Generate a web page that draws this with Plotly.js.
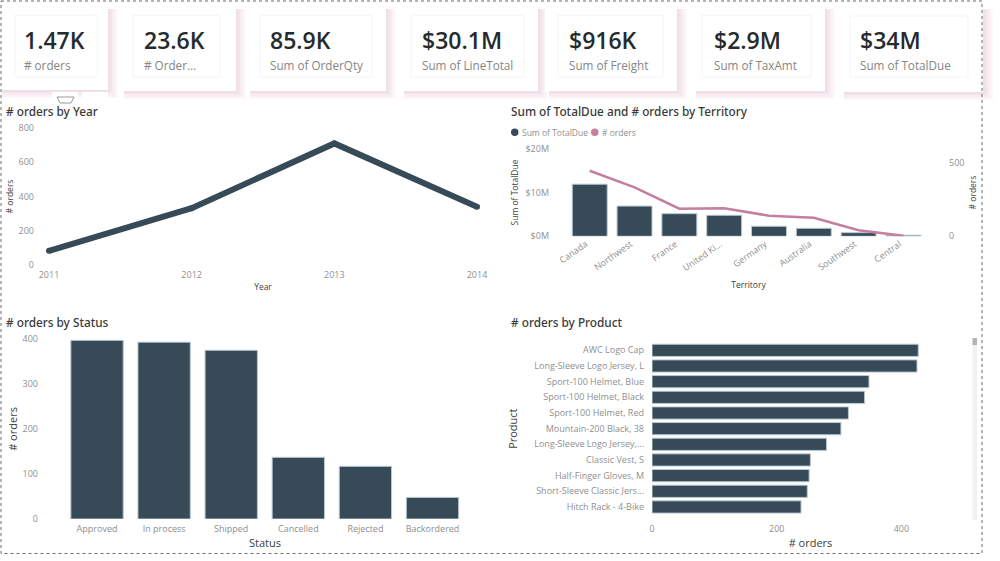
<!DOCTYPE html>
<html><head><meta charset="utf-8">
<script src="https://cdn.plot.ly/plotly-3.0.1.min.js"></script>
<style>html,body{margin:0;padding:0;background:#fff;overflow:hidden}#c{width:1000px;height:561px}</style>
</head><body><div id="c"></div>
<script>
// ---------- data ----------
const cardValues = ['1.47K','23.6K','85.9K','$30.1M','$916K','$2.9M','$34M'];
const cardLabels = ['# orders','# Order...','Sum of OrderQty','Sum of LineTotal','Sum of Freight','Sum of TaxAmt','Sum of TotalDue'];

const years = [2011,2012,2013,2014];
const ordersByYear = [83,332,710,340];

const territories = ['Canada','Northwest','France','United Ki...','Germany','Australia','Southwest','Central'];
const totalDue = [11.9e6,6.9e6,5.17e6,4.8e6,2.28e6,1.82e6,0.83e6,0.25e6];
const ordersByTerritory = [449,335,189,192,141,127,41,4];

const statuses = ['Approved','In process','Shipped','Cancelled','Rejected','Backordered'];
const ordersByStatus = [397,393,375,137,117,48];

const products = ['AWC Logo Cap','Long-Sleeve Logo Jersey, L','Sport-100 Helmet, Blue','Sport-100 Helmet, Black','Sport-100 Helmet, Red','Mountain-200 Black, 38','Long-Sleeve Logo Jersey,...','Classic Vest, S','Half-Finger Gloves, M','Short-Sleeve Classic Jers...','Hitch Rack - 4-Bike'];
const ordersByProduct = [427,425,348,341,315,303,280,254,252,249,239];

// ---------- style ----------
const W=1000,H=561;
const NAVY='#374a58', PINK='#c47f9f', EDGE='#b9c9d2';
const TICK='#8f8f8f', TITLE='#3a3a3a', AXT='#404040';
const FONT='"Open Sans", sans-serif', HEAD='"Noto Sans", sans-serif';
const px=(a,b)=>[a/W,b/W], py=(t,b)=>[1-b/H,1-t/H];
const tf={family:FONT,size:9,color:TICK};

const shapes=[], annotations=[];
function rect(x0,y0,x1,y1,fill,line,op){
  shapes.push({type:'rect',xref:'paper',yref:'paper',x0:x0/W,x1:x1/W,y0:1-y0/H,y1:1-y1/H,
    fillcolor:fill,opacity:op==null?1:op,line:line?{color:line,width:1}:{width:0},layer:'below'});
}
function text(x,y,t,size,color,family,weight){
  annotations.push({xref:'paper',yref:'paper',x:x/W,y:1-y/H,text:t,showarrow:false,
    xanchor:'left',yanchor:'middle',borderpad:0,font:{size,color,family,weight:weight||400}});
}
// cards: outer box, inner box, text x
const cardBoxes=[[-2,3,108,90],[120,3,236,91],[246,3,386,91],[400,3,538,91],[545,3,677,91],[692,3,825,91],[840,3,983,92]];
const innerBoxes=[[15,15,97,77],[133,15,220,77],[260,15,372,77],[411,15,524,77],[558,15,663,77],[702,15,811,77],[850,16,968,77]];
const textX=[23,143,269,421,568,713,859];
cardBoxes.forEach(b=>{
  [[10,8,.12],[8,7,.14],[6,5,.16],[4,3,.2],[2,2,.3]].forEach(s=>rect(b[0]+4,b[1]+6,b[2]+s[0],b[3]+s[1],'#eccfdb',null,s[2]));
});
cardBoxes.forEach(b=>rect(b[0],b[1],b[2],b[3],'#ffffff'));
innerBoxes.forEach(b=>rect(b[0],b[1],b[2],b[3],'#ffffff','#f4f4f4'));
cardValues.forEach((v,i)=>{
  text(textX[i],39.5,v,23,'#252a2e',FONT,600);
  text(textX[i],65.5,cardLabels[i],11.7,'#858585',FONT);
});
// filter-icon tab
rect(82,92,108,100,'#ffffff');
rect(52,92,78,106,'#ffffff');
shapes.push({type:'path',xref:'paper',yref:'paper',layer:'below',
  path:`M ${57/W} ${1-97/H} L ${74/W} ${1-97/H} L ${71/W} ${1-103/H} L ${60/W} ${1-103/H} Z`,
  fillcolor:'#ffffff',line:{color:'#9a9a9a',width:1}});
// dotted frame
shapes.push({type:'rect',xref:'paper',yref:'paper',x0:1/W,x1:982/W,y0:1-1/H,y1:1-553.5/H,layer:'below',
  line:{color:'#6a6a6a',width:1,dash:'dot'},fillcolor:'rgba(0,0,0,0)'});
// scrollbar
rect(972.5,340,977,520,'#f1f1f1');
rect(972.5,338,977,345,'#b5b5b5');

// chart titles
text(5,110.5,'# orders by Year',11.8,TITLE,HEAD,500);
text(510,110.5,'Sum of TotalDue and # orders by Territory',11.8,TITLE,HEAD,500);
text(5,321.5,'# orders by Status',11.8,TITLE,HEAD,500);
text(510,321.5,'# orders by Product',11.8,TITLE,HEAD,500);

// legend
shapes.push({type:'circle',xref:'paper',yref:'paper',x0:511/W,x1:518.5/W,y0:1-128.5/H,y1:1-136/H,fillcolor:NAVY,line:{width:0}});
shapes.push({type:'circle',xref:'paper',yref:'paper',x0:591/W,x1:598.5/W,y0:1-128.5/H,y1:1-136/H,fillcolor:PINK,line:{width:0}});
text(520.5,132.5,'Sum of TotalDue',8.5,TICK,FONT);
text(600.5,132.5,'# orders',8.5,TICK,FONT);

const base={showgrid:false,zeroline:false,showline:false,ticks:'',tickfont:tf};
const axt=(t,size,standoff)=>({text:t,font:{family:FONT,size,color:AXT},standoff});

const traces=[
 {type:'scatter',mode:'lines+markers',x:years,y:ordersByYear,line:{color:NAVY,width:6},marker:{color:NAVY,size:6},xaxis:'x',yaxis:'y',cliponaxis:false,showlegend:false},
 {type:'bar',x:territories,y:totalDue,marker:{color:NAVY,line:{color:EDGE,width:1}},xaxis:'x2',yaxis:'y2',showlegend:false,name:'Sum of TotalDue'},
 {type:'scatter',mode:'lines',x:territories,y:ordersByTerritory,line:{color:PINK,width:2.5},xaxis:'x2',yaxis:'y3',showlegend:false,name:'# orders'},
 {type:'bar',x:statuses,y:ordersByStatus,marker:{color:NAVY,line:{color:EDGE,width:1}},xaxis:'x3',yaxis:'y4',showlegend:false},
 {type:'bar',orientation:'h',y:products,x:ordersByProduct,marker:{color:NAVY,line:{color:EDGE,width:1}},xaxis:'x4',yaxis:'y5',showlegend:false}
];

const layout={
 width:W,height:H,margin:{l:0,r:0,t:0,b:0},paper_bgcolor:'#fff',plot_bgcolor:'rgba(0,0,0,0)',
 showlegend:false,bargap:0.22,font:{family:FONT},shapes,annotations,
 // line
 xaxis:Object.assign({},base,{domain:px(49,477),range:[2011,2014],tickvals:years,ticktext:years.map(String),anchor:'y',ticklabelstandoff:3,
   title:axt('Year',8.5,3.5)}),
 yaxis:Object.assign({},base,{domain:py(128,265),range:[0,800],tickvals:[0,200,400,600,800],anchor:'x',ticklabelstandoff:14,
   title:axt('# orders',8.5,3)}),
 // combo
 xaxis2:Object.assign({},base,{domain:px(551,946),range:[-0.864,7.95],type:'category',categoryorder:'array',categoryarray:territories,anchor:'y2',tickangle:-35,ticklabelshift:-4,
   title:axt('Territory',8.5,9)}),
 yaxis2:Object.assign({},base,{domain:py(148.7,236.3),range:[0,20e6],tickvals:[0,10e6,20e6],ticktext:['$0M','$10M','$20M'],anchor:'x2',ticklabelstandoff:1,
   title:axt('Sum of TotalDue',8.5,5)}),
 yaxis3:Object.assign({},base,{domain:py(148.7,236.3),range:[0,600],tickvals:[0,500],overlaying:'y2',side:'right',anchor:'x2',ticklabelstandoff:2,
   title:axt('# orders',8.5,6)}),
 // status
 xaxis3:Object.assign({},base,{domain:px(40,490),range:[-0.85,5.857],type:'category',categoryorder:'array',categoryarray:statuses,anchor:'y4',ticklabelstandoff:3,
   title:axt('Status',11,4)}),
 yaxis4:Object.assign({},base,{domain:py(339,519),range:[0,400],tickvals:[0,100,200,300,400],anchor:'x3',ticklabelstandoff:1,
   title:axt('# orders',11,2)}),
 // product
 xaxis4:Object.assign({},base,{domain:px(652,969),range:[0,508.4],tickvals:[0,200,400],anchor:'y5',ticklabelstandoff:7,
   title:axt('# orders',11,5)}),
 yaxis5:Object.assign({},base,{domain:py(342.5,514.8),range:[10.5,-0.5],type:'category',categoryorder:'array',categoryarray:products,anchor:'x4',ticklabelstandoff:7,
   title:axt('Product',11,14)})
};
Plotly.newPlot('c',traces,layout,{displayModeBar:false,staticPlot:true});
</script></body></html>
